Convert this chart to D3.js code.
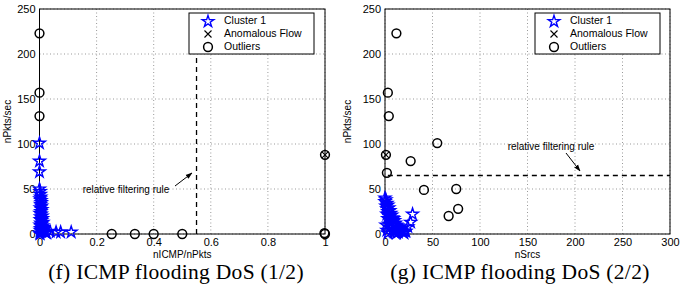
<!DOCTYPE html>
<html>
<head>
<meta charset="utf-8">
<script src="https://cdn.jsdelivr.net/npm/d3@7"></script>
<style>
    body { margin: 0; background: #fff; }
    svg text { font-family: "Liberation Sans", Helvetica, Arial, sans-serif; }
    .grid line { stroke: #999; stroke-dasharray: 1,2.5; }
</style>
</head>
<body>
<div id="chart"></div>
<script>
// Panel (f): nICMP/nPkts vs nPkts/sec
const fClusterX = [0, 0, 0, 0, 0.002, 0.003, 0.004, 0.002, 0.005, 0.006, 0.004, 0.007, 0.003, 0.008, 0.005,
    0.002, 0.006, 0.009, 0.004, 0.01, 0.003, 0.007, 0.012, 0.005, 0.008, 0.002, 0.011, 0.006, 0.014, 0.004,
    0.009, 0.003, 0.013, 0.007, 0.016, 0.02, 0.037, 0.058, 0.074, 0.111, 0.025, 0.001, 0.002];
const fClusterY = [101, 81, 69, 50, 47, 44, 41, 39, 37, 35, 33, 31, 29, 27, 25,
    23, 22, 20, 19, 17, 16, 15, 13, 12, 11, 10, 9, 8, 7, 6,
    5, 4, 4, 3, 3, 2, 3, 2, 2, 2, 1, 1, 0];
const fAnomX = [1];
const fAnomY = [88];
const fOutX = [0, 0, 0, 0.253, 0.334, 0.4, 0.5, 1, 1, 0.998];
const fOutY = [223, 157, 131, 0, 0, 0, 0, 88, 0, 1];
const fTicksX = [0, 0.2, 0.4, 0.6, 0.8, 1];
const fTickLabelsX = ['0', '0.2', '0.4', '0.6', '0.8', '1'];
const fRuleX = 0.55;

// Panel (g): nSrcs vs nPkts/sec
const gClusterX = [0, 0, 1, 2, 1, 3, 2, 4, 3, 5, 2, 6, 4, 7, 3, 8, 5, 9, 6, 10,
    4, 11, 7, 12, 5, 13, 8, 14, 9, 15, 10, 16, 12, 17, 14, 18, 19, 20, 21, 22, 24, 27, 29, 1, 2, 3];
const gClusterY = [40, 36, 38, 34, 31, 32, 28, 29, 25, 26, 22, 23, 20, 21, 17, 18, 16, 17, 13, 15,
    11, 12, 9, 10, 7, 9, 5, 7, 3, 6, 2, 5, 1, 4, 2, 3, 2, 1, 3, 3, 8, 13, 22, 10, 4, 1];
const gAnomX = [1];
const gAnomY = [88];
const gOutX = [12, 3, 4, 55, 27, 1, 2, 41, 75, 77, 67];
const gOutY = [223, 157, 131, 101, 81, 88, 68, 49, 50, 28, 20];
const gTicksX = [0, 50, 100, 150, 200, 250, 300];
const gTickLabelsX = ['0', '50', '100', '150', '200', '250', '300'];
const gRuleY = 65;

const yTicks = [0, 50, 100, 150, 200, 250];
const legendLabels = ['Cluster 1', 'Anomalous Flow', 'Outliers'];

const width = 680, height = 286;
const svg = d3.select('#chart').append('svg')
    .attr('width', width)
    .attr('height', height);

svg.append('defs').append('marker')
    .attr('id', 'arrow')
    .attr('viewBox', '0 0 10 10')
    .attr('refX', 9).attr('refY', 5)
    .attr('markerWidth', 7).attr('markerHeight', 7)
    .attr('orient', 'auto')
    .append('path')
    .attr('d', 'M0,1.5 L10,5 L0,8.5 Z')
    .attr('fill', '#000');

const star = d3.symbol().type(d3.symbolStar).size(42);

function drawPanel(p) {
    const x = d3.scaleLinear().domain(p.xDomain).range([p.left, p.right]);
    const y = d3.scaleLinear().domain([0, 250]).range([234, 9]);
    const g = svg.append('g');

    // Grid
    g.append('g').attr('class', 'grid')
        .selectAll('line.v').data(p.xTicks).enter().append('line')
        .attr('x1', d => x(d)).attr('x2', d => x(d))
        .attr('y1', y(0)).attr('y2', y(250));
    g.append('g').attr('class', 'grid')
        .selectAll('line.h').data(yTicks).enter().append('line')
        .attr('x1', x.range()[0]).attr('x2', x.range()[1])
        .attr('y1', d => y(d)).attr('y2', d => y(d));

    // Rule line
    if (p.ruleX !== undefined) {
        g.append('line')
            .attr('x1', x(p.ruleX)).attr('x2', x(p.ruleX))
            .attr('y1', y(0)).attr('y2', y(250))
            .attr('stroke', '#000').attr('stroke-width', 1.3)
            .attr('stroke-dasharray', '5,4');
    }
    if (p.ruleY !== undefined) {
        g.append('line')
            .attr('x1', x(p.ruleStart)).attr('x2', x(p.xDomain[1]))
            .attr('y1', y(p.ruleY)).attr('y2', y(p.ruleY))
            .attr('stroke', '#000').attr('stroke-width', 1.3)
            .attr('stroke-dasharray', '5,4');
    }

    // Axes box
    g.append('rect')
        .attr('x', x.range()[0]).attr('y', y(250))
        .attr('width', x.range()[1] - x.range()[0])
        .attr('height', y(0) - y(250))
        .attr('fill', 'none').attr('stroke', '#000').attr('stroke-width', 1);

    g.append('g')
        .attr('transform', `translate(0,${y(0)})`)
        .call(d3.axisBottom(x).tickValues(p.xTicks).tickFormat((d, i) => p.xLabels[i]).tickSize(0).tickPadding(4))
        .call(a => a.select('.domain').remove())
        .selectAll('text').attr('font-size', 11).attr('fill', '#000')
        .style('font-family', '"Liberation Sans", Helvetica, Arial, sans-serif');
    g.append('g')
        .attr('transform', `translate(${x.range()[0]},0)`)
        .call(d3.axisLeft(y).tickValues(yTicks).tickSize(0).tickPadding(4))
        .call(a => a.select('.domain').remove())
        .selectAll('text').attr('font-size', 11).attr('fill', '#000')
        .style('font-family', '"Liberation Sans", Helvetica, Arial, sans-serif');

    // Axis labels
    g.append('text')
        .attr('x', (x.range()[0] + x.range()[1]) / 2).attr('y', 258)
        .attr('text-anchor', 'middle').attr('font-size', 10)
        .text(p.xTitle);
    g.append('text')
        .attr('transform', `translate(${x.range()[0] - p.yTitleOffset},${(y(0) + y(250)) / 2}) rotate(-90)`)
        .attr('text-anchor', 'middle').attr('font-size', 10)
        .text('nPkts/sec');

    // Cluster stars
    g.selectAll('path.star').data(p.clusterX).enter().append('path')
        .attr('d', star)
        .attr('transform', (d, i) => `translate(${x(d)},${y(p.clusterY[i])})`)
        .attr('fill', 'none').attr('stroke', '#0000ff').attr('stroke-width', 1.4);

    // Outliers
    g.selectAll('circle.out').data(p.outX).enter().append('circle')
        .attr('cx', d => x(d)).attr('cy', (d, i) => y(p.outY[i]))
        .attr('r', 4.4)
        .attr('fill', 'none').attr('stroke', '#000').attr('stroke-width', 1.5);

    // Anomalous flow crosses
    p.anomX.forEach((d, i) => {
        const cx = x(d), cy = y(p.anomY[i]);
        g.append('path')
            .attr('d', `M${cx - 3},${cy - 3}L${cx + 3},${cy + 3}M${cx - 3},${cy + 3}L${cx + 3},${cy - 3}`)
            .attr('stroke', '#000').attr('stroke-width', 1.1);
    });

    // Annotation
    g.append('text')
        .attr('x', p.note.tx).attr('y', p.note.ty)
        .attr('text-anchor', 'middle').attr('font-size', 10)
        .attr('dominant-baseline', 'middle')
        .text('relative filtering rule');
    g.append('line')
        .attr('x1', p.note.x1).attr('y1', p.note.y1)
        .attr('x2', p.note.x2).attr('y2', p.note.y2)
        .attr('stroke', '#000').attr('stroke-width', 1)
        .attr('marker-end', 'url(#arrow)');

    // Legend
    const lg = g.append('g').attr('transform', `translate(${p.legendX},13)`);
    lg.append('rect').attr('width', 125).attr('height', 41)
        .attr('fill', '#fff').attr('stroke', '#000').attr('stroke-width', 1);
    lg.append('path').attr('d', star)
        .attr('transform', 'translate(19,8.5)')
        .attr('fill', 'none').attr('stroke', '#0000ff').attr('stroke-width', 1.4);
    lg.append('path').attr('d', 'M15.5,17.5L22.5,24.5M15.5,24.5L22.5,17.5')
        .attr('stroke', '#000').attr('stroke-width', 1.1);
    lg.append('circle').attr('cx', 19).attr('cy', 34).attr('r', 4.4)
        .attr('fill', 'none').attr('stroke', '#000').attr('stroke-width', 1.5);
    lg.selectAll('text').data(legendLabels).enter().append('text')
        .attr('x', 35).attr('y', (d, i) => 8.5 + i * 12.7)
        .attr('dominant-baseline', 'middle').attr('font-size', 10.5)
        .text(d => d);

    // Caption
    svg.append('text')
        .attr('x', p.captionX).attr('y', 279)
        .attr('text-anchor', 'middle').attr('font-size', 21.5)
        .attr('letter-spacing', 0.3)
        .style('font-family', '"Liberation Serif", "Times New Roman", serif')
        .text(p.caption);
}

drawPanel({
    xDomain: [0, 1], left: 39.5, right: 325,
    xTicks: fTicksX, xLabels: fTickLabelsX, xTitle: 'nICMP/nPkts',
    yTitleOffset: 29,
    clusterX: fClusterX, clusterY: fClusterY,
    anomX: fAnomX, anomY: fAnomY, outX: fOutX, outY: fOutY,
    ruleX: fRuleX,
    note: { tx: 126, ty: 190, x1: 175, y1: 186, x2: 192, y2: 173 },
    legendX: 189,
    captionX: 176, caption: '(f) ICMP flooding DoS (1/2)'
});

drawPanel({
    xDomain: [0, 300], left: 385, right: 670,
    xTicks: gTicksX, xLabels: gTickLabelsX, xTitle: 'nSrcs',
    yTitleOffset: 34,
    clusterX: gClusterX, clusterY: gClusterY,
    anomX: gAnomX, anomY: gAnomY, outX: gOutX, outY: gOutY,
    ruleY: gRuleY, ruleStart: 3,
    note: { tx: 551, ty: 147, x1: 566, y1: 153, x2: 580, y2: 171 },
    legendX: 535,
    captionX: 520, caption: '(g) ICMP flooding DoS (2/2)'
});
</script>
</body>
</html>
